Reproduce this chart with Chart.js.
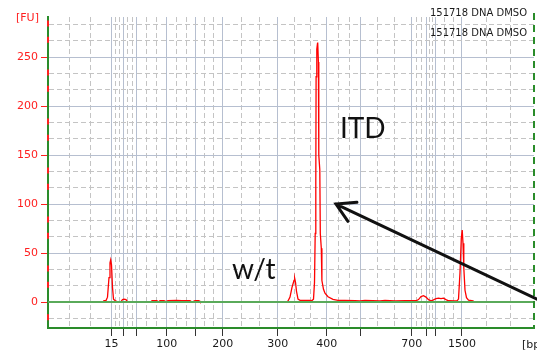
<!DOCTYPE html>
<html>
<head>
<meta charset="utf-8">
<script src="https://cdn.jsdelivr.net/npm/chart.js@4/dist/chart.umd.min.js"></script>
<style>
  html, body { margin: 0; padding: 0; background: #fff; }
  #wrap { width: 537px; height: 354px; position: relative; }
</style>
</head>
<body>
<div id="wrap"><canvas id="c"></canvas></div>
<script>
// ladder sizes (bp) and their migration time (s)
const ladderBp   = [15, 25, 50, 100, 150, 200, 300, 400, 500, 700, 850, 1000, 1500];
const ladderTime = [42.7, 45.1, 47.74, 53.74, 59.56, 64.94, 75.94, 85.74, 92.54, 102.74, 105.74, 107.6, 112.8];
const xLabelBp   = [15, 100, 200, 300, 400, 700, 1500];
const xExtraGrid = [34.2, 38.5, 117.7, 122.4];
const yLabels    = [0, 50, 100, 150, 200, 250];
const xRange = [30, 127.2];
const yRange = [-26.5, 291];

// sample trace: migration time (s) vs fluorescence (FU)
const sampleTime = [
  30, 41.0, 41.2, 41.6, 41.9, 42.2, 42.4, 42.54, 42.7, 42.9, 43.1, 43.4, 43.8,
  44.6, 44.9, 45.2, 45.6, 45.9,
  50.6, 50.8, 51.8, 52.0, 52.4, 53.2, 53.6, 54.0, 55.6, 56.8, 58.4, 58.8, 59.4, 60.2, 60.4,
  77.6, 78.0, 78.4, 78.8, 79.2, 79.34, 79.5, 79.7, 80.0, 80.4, 82.4, 82.8,
  83.1, 83.3, 83.44, 83.56, 83.62, 83.76, 83.9, 83.94, 84.08, 84.16, 84.36, 84.46, 84.66, 84.78,
  85.1, 85.4, 86.0, 87.0, 88.0, 89.4, 91.4, 92.4, 93.4, 96.4, 97.4, 99.4, 101.4, 102.8,
  103.6, 104.1, 104.6, 105.1, 105.6, 106.1, 106.6, 107.0, 107.6, 108.1, 108.6, 109.1, 109.6, 110.1,
  111.4, 111.8, 112.1, 112.4, 112.66, 112.84, 113.0, 113.16, 113.4, 113.7, 114.1, 115.0, 115.2, 127.2
];
const sampleFU = [
  0, 0, 1.5, 1.5, 5, 25, 40, 43, 38, 15, 3, 1.5, 0.5,
  0.5, 2.5, 3, 2.5, 0.3,
  0, 1.3, 1.3, 0, 1.3, 1.3, 0.5, 1.5, 1.8, 1.3, 1.5, 0, 1.3, 1.3, 0,
  0, 1, 5, 15, 22, 24, 20, 11, 3, 1.8, 1.6, 1.5,
  3, 20, 70, 120, 230, 258, 264, 265, 245, 150, 135, 70, 55, 22,
  13, 9, 5.4, 2.7, 1.7, 1.6, 1.3, 1.2, 1.8, 1.2, 1.8, 1.2, 1.3, 1.4,
  1.3, 2.5, 5.5, 6.5, 5, 2.5, 1.2, 2, 3.5, 4, 3.5, 4, 2.5, 1.3,
  1.2, 1.2, 3, 30, 65, 73.5, 60, 35, 12, 4.5, 2, 1.2, 0, 0
];
const baselineTime = [30, 127.2];
const baselineFU   = [0, 0];

const legendLines = ['151718 DNA DMSO', '151718 DNA DMSO'];
// annotations in data space: [time, FU]
const noteItd = { text: 'ITD', at: [88.4, 167] };
const noteWt  = { text: 'w/t', at: [66.8, 23.5] };
const arrowFrom = [127.8, 3];
const arrowTo   = [87.6, 100];

const FONT = "'DejaVu Sans', sans-serif";
const axisGreen = '#2a8c2a';
const baseGreen = '#5aaa5a';
const solidGrid = '#b6bfd0';
const dashGrid = '#c4c4c4';

function xGridTicks() {
  const out = ladderTime.map((t, i) => ({
    value: t, ladder: true,
    bp: xLabelBp.includes(ladderBp[i]) ? ladderBp[i] : null
  }));
  for (let i = 0; i < ladderTime.length - 1; i++) {
    const a = ladderTime[i], b = ladderTime[i + 1];
    out.push({ value: a + (b - a) / 3 }, { value: a + 2 * (b - a) / 3 });
  }
  xExtraGrid.forEach(v => out.push({ value: v }));
  return out.sort((p, q) => p.value - q.value);
}

function yGridTicks() {
  const out = [];
  const step = yLabels[1] - yLabels[0];
  for (let v = yLabels[0] - step; v <= yLabels[yLabels.length - 1] + step; v += step) {
    out.push({ value: v, major: yLabels.includes(v) });
    out.push({ value: v + step / 3 }, { value: v + 2 * step / 3 });
  }
  return out.filter(t => t.value > yRange[0] && t.value < yRange[1]);
}

const toPts = (xs, ys) => xs.map((x, i) => ({ x, y: ys[i] }));

const decor = {
  id: 'decor',
  afterDraw(chart) {
    const { ctx, chartArea: a, scales: { x, y } } = chart;
    ctx.save();
    // dashed frame on the right
    ctx.strokeStyle = axisGreen; ctx.lineWidth = 2; ctx.setLineDash([7, 5]);
    ctx.beginPath(); ctx.moveTo(a.right, 13); ctx.lineTo(a.right, a.bottom); ctx.stroke();
    ctx.setLineDash([]);
    // small red marks on the left axis at minor values
    ctx.strokeStyle = '#ff2020';
    y.ticks.filter(t => !t.major).forEach(t => {
      const py = y.getPixelForValue(t.value);
      ctx.beginPath(); ctx.moveTo(a.left, py - 4); ctx.lineTo(a.left, py + 2); ctx.stroke();
    });
    // unit labels
    ctx.font = `11px ${FONT}`;
    ctx.textBaseline = 'middle';
    ctx.fillStyle = '#ff2020'; ctx.textAlign = 'left';
    ctx.fillText('[FU]', 16, 18);
    ctx.fillStyle = '#1a1a1a';
    ctx.fillText('[bp]', 522, 345);
    // legend
    ctx.font = `10px ${FONT}`;
    ctx.textAlign = 'right';
    legendLines.forEach((s, i) => ctx.fillText(s, 527, 13.5 + i * 20));
    // annotations
    ctx.font = "28px Lato, sans-serif";
    ctx.textAlign = 'left'; ctx.textBaseline = 'alphabetic';
    ctx.fillStyle = '#111';
    [noteItd, noteWt].forEach(n => {
      ctx.fillText(n.text, x.getPixelForValue(n.at[0]), y.getPixelForValue(n.at[1]));
    });
    // arrow
    const x0 = x.getPixelForValue(arrowFrom[0]), y0 = y.getPixelForValue(arrowFrom[1]);
    const x1 = x.getPixelForValue(arrowTo[0]), y1 = y.getPixelForValue(arrowTo[1]);
    const ang = Math.atan2(y1 - y0, x1 - x0);
    const head = 21, spread = Math.PI / 6;
    ctx.strokeStyle = '#111'; ctx.lineWidth = 3; ctx.lineCap = 'round';
    ctx.beginPath();
    ctx.moveTo(x0, y0); ctx.lineTo(x1, y1);
    ctx.moveTo(x1 - head * Math.cos(ang - spread), y1 - head * Math.sin(ang - spread));
    ctx.lineTo(x1, y1);
    ctx.lineTo(x1 - head * Math.cos(ang + spread), y1 - head * Math.sin(ang + spread));
    ctx.stroke();
    ctx.restore();
  }
};

new Chart(document.getElementById('c'), {
  type: 'line',
  data: {
    datasets: [
      { data: toPts(sampleTime, sampleFU), borderColor: '#ff0000', borderWidth: 1.3, pointRadius: 0, tension: 0, order: 2 },
      { data: toPts(baselineTime, baselineFU), borderColor: baseGreen, borderWidth: 2, pointRadius: 0, order: 1 }
    ]
  },
  options: {
    responsive: true,
    maintainAspectRatio: false,
    animation: false,
    layout: { padding: { top: 17, right: 3, left: 0, bottom: 0 } },
    plugins: { legend: { display: false }, tooltip: { enabled: false } },
    scales: {
      x: {
        type: 'linear', min: xRange[0], max: xRange[1],
        afterBuildTicks: s => { s.ticks = xGridTicks(); },
        afterFit: s => { s.height = 26; },
        ticks: {
          autoSkip: false, maxRotation: 0, minRotation: 0, padding: 2,
          color: '#1a1a1a', font: { family: FONT, size: 11 },
          callback: (v, i, t) => (t[i].bp ? String(t[i].bp) : '')
        },
        grid: {
          color: c => (c.tick && c.tick.ladder ? solidGrid : dashGrid),
          lineWidth: 1, tickLength: 8,
          tickColor: c => (c.tick && c.tick.ladder ? '#333' : 'rgba(0,0,0,0)')
        },
        border: { color: axisGreen, width: 2, dash: c => (c.tick && !c.tick.ladder ? [5, 3] : []) }
      },
      y: {
        min: yRange[0], max: yRange[1],
        afterBuildTicks: s => { s.ticks = yGridTicks(); },
        afterFit: s => { s.width = 48; },
        ticks: {
          autoSkip: false, padding: 3,
          color: '#ff2020', font: { family: FONT, size: 11 },
          callback: (v, i, t) => (t[i].major ? String(Math.round(v)) : '')
        },
        grid: {
          color: c => (c.tick && c.tick.major ? solidGrid : dashGrid),
          lineWidth: 1, tickLength: 7,
          tickColor: c => (c.tick && c.tick.major ? '#ff2020' : 'rgba(0,0,0,0)')
        },
        border: { color: axisGreen, width: 2, dash: c => (c.tick && !c.tick.major ? [5, 3] : []) }
      }
    }
  },
  plugins: [decor]
});
</script>
</body>
</html>
